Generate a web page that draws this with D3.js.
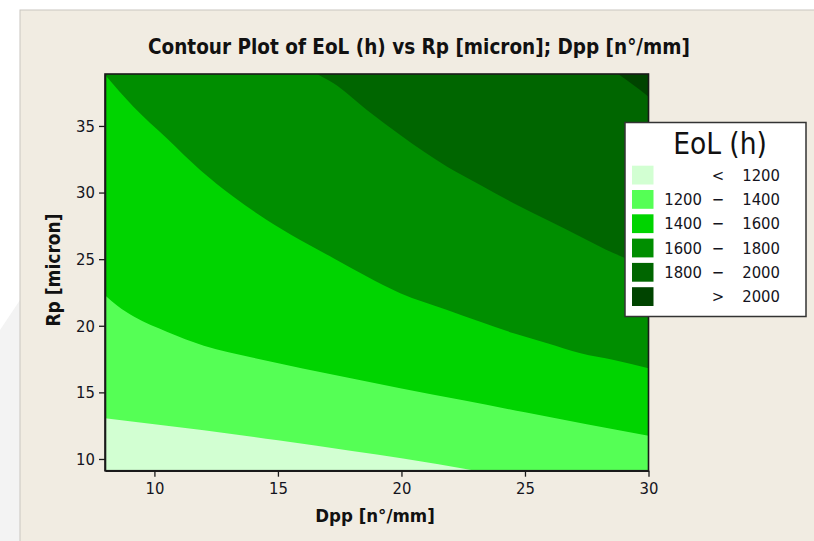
<!DOCTYPE html>
<html><head><meta charset="utf-8">
<script src="https://cdn.jsdelivr.net/npm/d3@7"></script>
<style>body{margin:0;background:#fff} svg{display:block}</style>
</head><body><svg id="c" width="814" height="541"></svg>
<script>
// ---- data ----
const xDomain = [8, 30];          // Dpp [n°/mm]
const yDomain = [9.12, 38.9];     // Rp [micron]
const xTicks = [10, 15, 20, 25, 30];
const yTicks = [10, 15, 20, 25, 30, 35];
const levels = [1200, 1400, 1600, 1800, 2000];
const legendRows = [["", "<", "1200"], ["1200", "\u2212", "1400"], ["1400", "\u2212", "1600"],
                    ["1600", "\u2212", "1800"], ["1800", "\u2212", "2000"], ["", ">", "2000"]];
const colors = ["#D2FFD2", "#55FF55", "#00D400", "#008E00", "#006600", "#004400"];

// contour boundary lines [Dpp, Rp]
const contour1200 = [[8,13.05],[10,12.6],[12,12.15],[15,11.4],[18,10.6],[20,10.05],[21.5,9.6],[23,9.12]];
const contour1400 = [[8,22.3],[8.5,21.5],[9.2,20.65],[10.5,19.55],[12,18.5],[14,17.6],[16,16.8],[18,16.05],[20,15.3],[22.5,14.4],[25,13.5],[27.5,12.6],[30,11.75]];
const contour1600 = [[8,38.85],[9.15,36.45],[10.5,34.08],[11.85,31.7],[13.2,29.69],[14.55,27.94],[15.9,26.44],[17.25,25.07],[18.6,23.69],[19.95,22.44],[21.85,21.19],[23.19,20.31],[24.54,19.44],[25.9,18.69],[27.25,17.94],[28.6,17.43],[30,16.81]];
const contour1800 = [[16.58,38.9],[17.25,38.2],[18.6,36.2],[19.95,34.32],[21.85,31.94],[23.19,30.57],[24.54,29.2],[25.9,27.94],[27.25,26.69],[28.6,25.44],[30,24.4]];
const contour2000 = [[28.77,38.9],[29.4,38.05],[30,37.2]];
const contours = [contour1200, contour1400, contour1600, contour1800, contour2000];

// ---- layout ----
const svg = d3.select("#c");
const P = {l:105, r:648.5, t:74, b:470.7};
const x = d3.scaleLinear().domain(xDomain).range([P.l, P.r]);
const y = d3.scaleLinear().domain(yDomain).range([P.b, P.t]);
const FONT = "'DejaVu Sans Condensed','DejaVu Sans',sans-serif";

// page background
svg.append("rect").attr("width",814).attr("height",541).attr("fill","#fff");
svg.append("path").attr("d","M0,330 L20,300 L20,541 L0,541Z").attr("fill","#f3f3f3");
svg.append("rect").attr("x",20).attr("y",10).attr("width",800).attr("height",540)
   .attr("fill","#F1ECE2").attr("stroke","#c9c6c0").attr("stroke-width",1);

// clip
svg.append("clipPath").attr("id","clip").append("rect")
   .attr("x",P.l).attr("y",P.t).attr("width",P.r-P.l).attr("height",P.b-P.t);
const g = svg.append("g").attr("clip-path","url(#clip)");
g.append("rect").attr("x",P.l).attr("y",P.t).attr("width",P.r-P.l).attr("height",P.b-P.t)
  .attr("fill", colors[5]);

const lineGen = d3.line().x(d=>x(d[0])).y(d=>y(d[1])).curve(d3.curveMonotoneX);
for (let i = contours.length-1; i >= 0; i--) {
  const c = contours[i];
  const first = c[0], last = c[c.length-1];
  const d = lineGen(c) + `L${x(last[0])},${y(yDomain[0])}L${x(xDomain[0])},${y(yDomain[0])}L${x(xDomain[0])},${y(first[1])}Z`;
  g.append("path").attr("d", d).attr("fill", colors[i]);
}

// frame
svg.append("rect").attr("x",P.l).attr("y",P.t).attr("width",P.r-P.l).attr("height",P.b-P.t)
  .attr("fill","none").attr("stroke","#1a1a1a").attr("stroke-width",1.6);

// axes
const xAxis = svg.append("g").attr("transform",`translate(0,${P.b})`)
  .call(d3.axisBottom(x).tickValues(xTicks).tickSize(6).tickPadding(6).tickSizeOuter(0));
const yAxis = svg.append("g").attr("transform",`translate(${P.l},0)`)
  .call(d3.axisLeft(y).tickValues(yTicks).tickSize(6).tickPadding(4).tickSizeOuter(0));
[xAxis, yAxis].forEach(a => {
  a.select(".domain").attr("stroke","#1a1a1a").attr("stroke-width",1.6);
  a.selectAll(".tick line").attr("stroke","#1a1a1a").attr("stroke-width",1.3);
  a.selectAll(".tick text").attr("fill","#141420").style("font-family",FONT).style("font-size","16.5px");
});

// titles
svg.append("text").attr("x",419).attr("y",54).attr("text-anchor","middle")
  .style("font-family",FONT).style("font-weight","bold").style("font-size","20.5px").attr("fill","#111")
  .text("Contour Plot of EoL (h) vs Rp [micron]; Dpp [n\u00B0/mm]");
svg.append("text").attr("x",375).attr("y",522).attr("text-anchor","middle")
  .style("font-family",FONT).style("font-weight","bold").style("font-size","18.5px").attr("fill","#111")
  .text("Dpp [n\u00B0/mm]");
svg.append("text").attr("transform","translate(60,270) rotate(-90)").attr("text-anchor","middle")
  .style("font-family",FONT).style("font-weight","bold").style("font-size","19px").attr("fill","#111")
  .text("Rp [micron]");

// legend
const L = svg.append("g");
L.append("rect").attr("x",625).attr("y",122.5).attr("width",181).attr("height",194)
  .attr("fill","#fff").attr("stroke","#333").attr("stroke-width",1.5);
L.append("text").attr("x",720).attr("y",154).attr("text-anchor","middle")
  .style("font-family",FONT).style("font-size","29.5px").attr("fill","#111").text("EoL (h)");
legendRows.forEach((r,i) => {
  const ty = 165.7 + i*24.3;
  L.append("rect").attr("x",632).attr("y",ty).attr("width",21.5).attr("height",18.8).attr("fill",colors[i]);
  const t = [[702,"end",r[0]],[718,"middle",r[1]],[780,"end",r[2]]];
  t.forEach(([tx,anc,s]) => {
    L.append("text").attr("x",tx).attr("y",ty+15).attr("text-anchor",anc)
      .style("font-family",FONT).style("font-size","16.5px").attr("fill","#141420").text(s);
  });
});
</script></body></html>
